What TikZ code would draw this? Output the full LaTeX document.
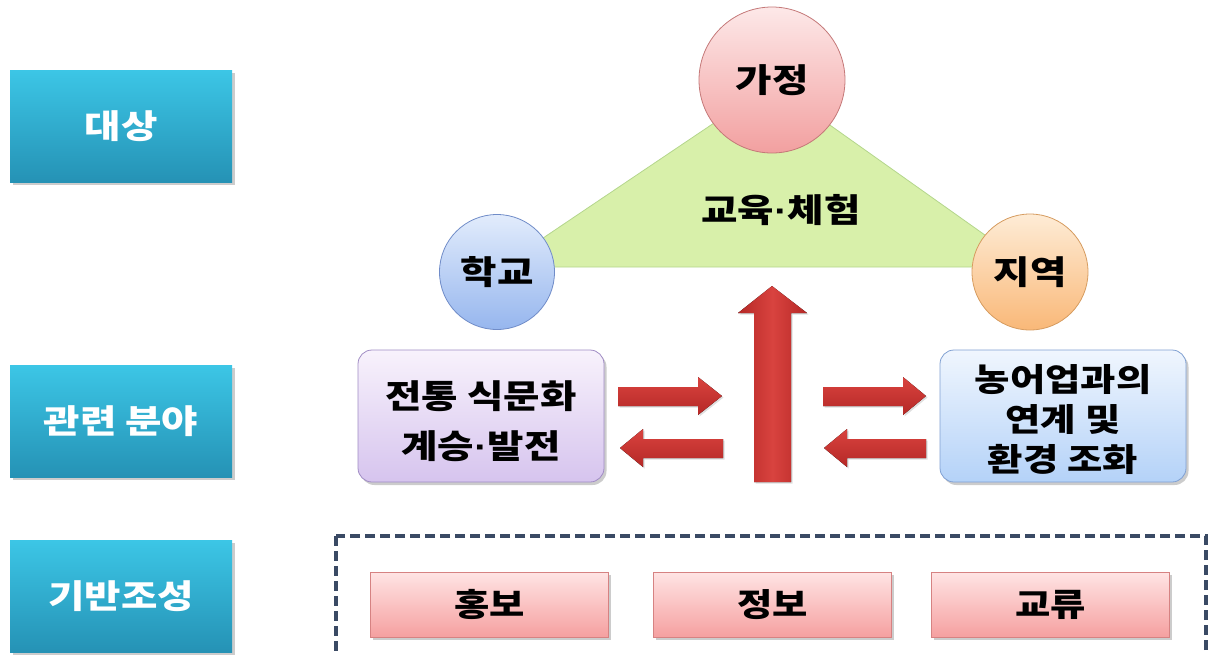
\documentclass[tikz,border=0pt]{standalone}
\usepackage{fontspec}
\setmainfont[FakeStretch=1.2]{Noto Sans CJK KR}
\newfontfamily\latinf[FakeStretch=1.2]{Liberation Sans}
\newcommand{\mdot}{{\latinf\bfseries ·}}
\usetikzlibrary{shadows}
\definecolor{tealtop}{HTML}{3CC6E6}
\definecolor{tealbot}{HTML}{2592B5}
\definecolor{redtop}{HTML}{D9433F}
\definecolor{redbot}{HTML}{B52826}
\definecolor{dashc}{HTML}{3A4A64}
\definecolor{trifill}{RGB}{216,240,170}
\definecolor{triline}{RGB}{180,214,140}
\definecolor{homeline}{RGB}{196,120,120}
\definecolor{hometop}{RGB}{253,232,232}
\definecolor{homebot}{RGB}{242,160,160}
\definecolor{schline}{RGB}{112,140,200}
\definecolor{schtop}{RGB}{226,236,252}
\definecolor{schbot}{RGB}{150,182,238}
\definecolor{regline}{RGB}{214,156,96}
\definecolor{regtop}{RGB}{254,236,214}
\definecolor{regbot}{RGB}{249,184,120}
\definecolor{tradline}{RGB}{160,140,196}
\definecolor{tradtop}{RGB}{248,242,252}
\definecolor{tradbot}{RGB}{214,196,238}
\definecolor{agriline}{RGB}{128,160,210}
\definecolor{agritop}{RGB}{240,246,254}
\definecolor{agribot}{RGB}{180,210,248}
\definecolor{baseline}{RGB}{214,130,130}
\definecolor{basetop}{RGB}{255,228,228}
\definecolor{basebot}{RGB}{245,160,160}
\begin{document}
\begin{tikzpicture}[x=1pt,y=-1pt,
  shadowed/.style={drop shadow={opacity=0.4,shadow xshift=2.5pt,shadow yshift=-3pt}},
  catbox/.style={rectangle,minimum width=222pt,minimum height=112pt,draw=none,
    top color=tealtop,bottom color=tealbot,shadowed,text=white,
    font=\bfseries\fontsize{33}{38}\selectfont},
  bubble/.style={circle,line width=0.8pt,font=\bfseries\fontsize{33}{38}\selectfont},
  fieldbox/.style={rectangle,rounded corners=14pt,minimum width=246pt,minimum height=132pt,
    line width=0.8pt,shadowed,align=center},
  basebox/.style={rectangle,minimum width=238pt,minimum height=65pt,draw=baseline,
    line width=0.8pt,top color=basetop,bottom color=basebot,
    shadowed,font=\bfseries\fontsize{32}{38}\selectfont},
  blockarrow/.style={top color=redtop,bottom color=redbot,draw=none,
    drop shadow={opacity=0.25,shadow xshift=1.5pt,shadow yshift=-1.5pt}},
  uparrow/.style={left color=redbot,right color=redbot,middle color=redtop,draw=none,
    drop shadow={opacity=0.25,shadow xshift=1.5pt,shadow yshift=-1.5pt}}
]
\useasboundingbox (0,0) rectangle (1211,654);

% category labels
\node[catbox] (target) at (121,126) {대상};
\node[catbox] (field) at (121,421) {관련 분야};
\node[catbox] (base) at (121,596) {기반조성};

% triangle
\coordinate (tA) at (772,84);
\coordinate (tB) at (500,267);
\coordinate (tC) at (1030,267);
\filldraw[fill=trifill,draw=triline,line width=0.8pt] (tA) -- (tB) -- (tC) -- cycle;
\node[font=\bfseries\fontsize{33}{38}\selectfont] (edu) at (781,210) {교육\mdot 체험};

% circles
\node[bubble,draw=homeline,minimum size=146pt,top color=hometop,bottom color=homebot] (home) at (772,80) {가정};
\node[bubble,draw=schline,minimum size=115pt,top color=schtop,bottom color=schbot] (school) at (497,272) {학교};
\node[bubble,draw=regline,minimum size=116pt,top color=regtop,bottom color=regbot] (region) at (1030,272) {지역};

% field boxes
\node[fieldbox,draw=tradline,top color=tradtop,bottom color=tradbot] (trad) at (481,416) {};
\node[align=center,font=\bfseries\fontsize{33}{50}\selectfont] (tradtext) at (481,421) {전통 식문화\\계승\mdot 발전};
\node[fieldbox,draw=agriline,top color=agritop,bottom color=agribot] (agri) at (1063,416) {};
\node[align=center,font=\bfseries\fontsize{32}{40}\selectfont] (agritext) at (1063,419) {농어업과의\\연계 및\\환경 조화};

% horizontal block arrows
\fill[blockarrow] (618,387) -- (698,387) -- (698,377) -- (722,396) -- (698,415) -- (698,406) -- (618,406) -- cycle;
\fill[blockarrow] (723,439) -- (643,439) -- (643,429) -- (620,448) -- (643,467) -- (643,458) -- (723,458) -- cycle;
\fill[blockarrow] (823,387) -- (903,387) -- (903,377) -- (926,396) -- (903,415) -- (903,406) -- (823,406) -- cycle;
\fill[blockarrow] (926,439) -- (847,439) -- (847,429) -- (824,448) -- (847,467) -- (847,458) -- (926,458) -- cycle;

% big up arrow
\fill[uparrow] (754,482) -- (754,313) -- (738,313) -- (772,286) -- (807,313) -- (791,313) -- (791,482) -- cycle;

% base area
\draw[draw=dashc,line width=3.5pt,dash pattern=on 10pt off 5pt] (336,536) rectangle (1206,668);
\node[basebox] (promo) at (489.5,604.5) {홍보};
\node[basebox] (info) at (772.5,604.5) {정보};
\node[basebox] (exch) at (1050.5,604.5) {교류};
\end{tikzpicture}
\end{document}
